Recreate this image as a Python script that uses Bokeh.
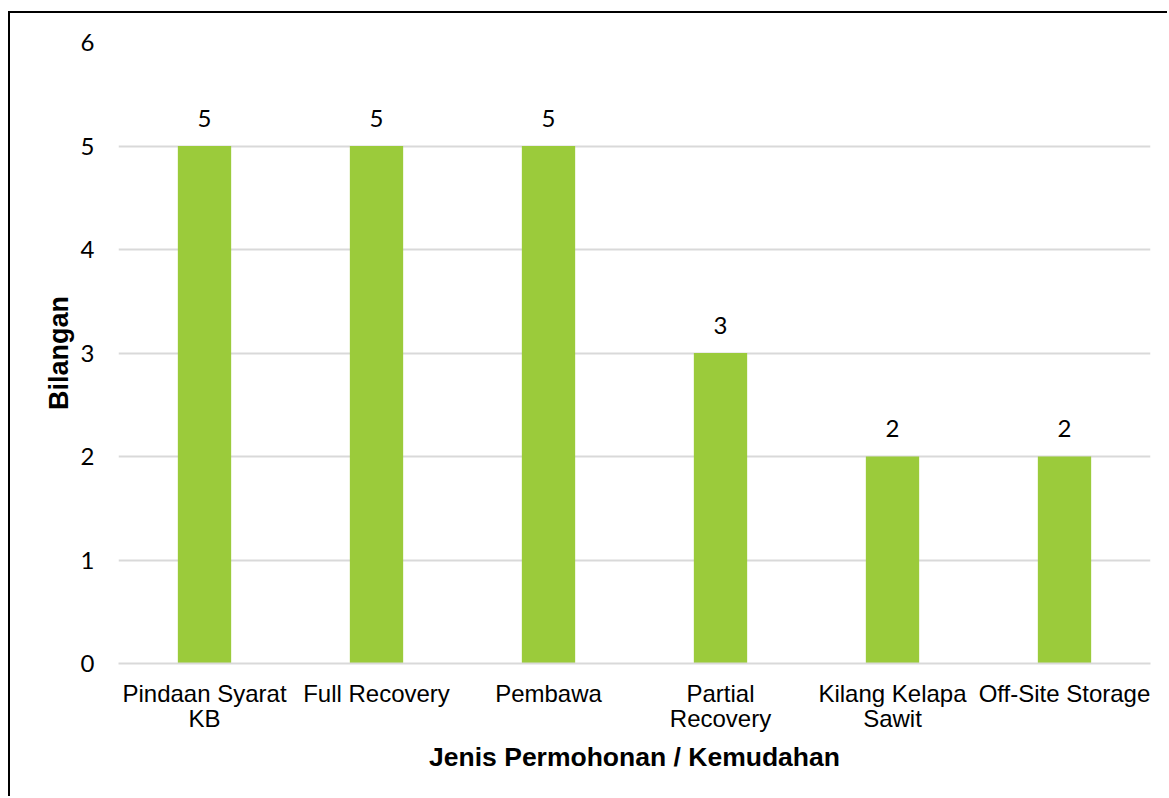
from bokeh.plotting import figure
from bokeh.models import ColumnDataSource, FactorRange
from bokeh.core.properties import value
from bokeh.embed import file_html
from bokeh.resources import INLINE

categories = ["Pindaan Syarat\nKB", "Full Recovery", "Pembawa", "Partial\nRecovery",
              "Kilang Kelapa\nSawit", "Off-Site Storage"]
counts = [5, 5, 5, 3, 2, 2]
y_ticks = [0, 1, 2, 3, 4, 5, 6]
x_title = "Jenis Permohonan / Kemudahan"
y_title = "Bilangan"

src = ColumnDataSource(dict(cat=categories, val=counts, lab=[str(v) for v in counts]))

p = figure(x_range=FactorRange(*categories), y_range=(0, 6),
           width=1159, height=785, output_backend="svg", toolbar_location=None,
           min_border_left=108, min_border_right=19, min_border_top=29, min_border_bottom=135,
           styles={"border-left": "2px solid black", "border-top": "2px solid black",
                   "margin-top": "11px", "margin-left": "8px"})
p.outline_line_color = None
p.background_fill_color = "white"
p.border_fill_color = "white"

p.vbar(x="cat", top="val", width=0.31, source=src, fill_color="#9BCB3B", line_color=None)
p.text(x="cat", y="val", text="lab", source=src, text_align="center",
       text_baseline="alphabetic", y_offset=-28, text_font=value("Lato"),
       text_font_size="24px", text_color="#000000")

p.xgrid.grid_line_color = None
p.ygrid.grid_line_color = "#D9D9D9"
p.ygrid.grid_line_width = 2

p.yaxis.ticker = y_ticks
p.yaxis.axis_line_color = None
p.yaxis.major_tick_line_color = None
p.yaxis.minor_tick_line_color = None
p.yaxis.major_tick_out = 0
p.yaxis.major_label_standoff = 24
p.yaxis.major_label_text_font = "Lato"
p.yaxis.major_label_text_font_size = "24px"
p.yaxis.major_label_text_color = "#000000"
p.yaxis.axis_label = y_title
p.yaxis.axis_label_text_font = "Liberation Sans"
p.yaxis.axis_label_text_font_style = "bold"
p.yaxis.axis_label_text_font_size = "27px"
p.yaxis.axis_label_text_color = "#000000"
p.yaxis.axis_label_standoff = 4

p.xaxis.axis_line_color = "#D9D9D9"
p.xaxis.axis_line_width = 2
p.xaxis.major_tick_line_color = None
p.xaxis.major_tick_out = 0
p.xaxis.major_label_standoff = 16
p.xaxis.major_label_text_font = "Liberation Sans"
p.xaxis.major_label_text_font_size = "24px"
p.xaxis.major_label_text_line_height = 0.95
p.xaxis.major_label_text_color = "#000000"
p.xaxis.axis_label = x_title
p.xaxis.axis_label_text_font = "Liberation Sans"
p.xaxis.axis_label_text_font_style = "bold"
p.xaxis.axis_label_text_font_size = "26.5px"
p.xaxis.axis_label_text_color = "#000000"
p.xaxis.axis_label_standoff = 7

open("out.html", "w").write(file_html(p, INLINE))
